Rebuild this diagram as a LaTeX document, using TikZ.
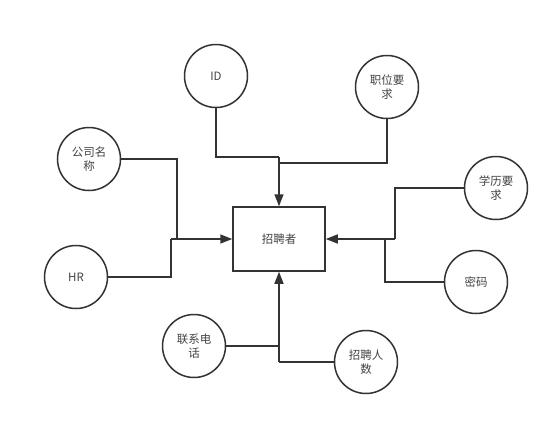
\documentclass[tikz,border=0pt]{standalone}
\usepackage{fontspec}
\setmainfont{Noto Sans CJK SC}
\usetikzlibrary{arrows.meta}
\definecolor{ink}{HTML}{333333}
\definecolor{txt}{HTML}{444444}
\tikzset{
  attr/.style={circle, draw=ink, line width=1.5pt, minimum size=63pt, inner sep=0pt,
    align=center, text=txt, font=\fontsize{11.5}{14}\selectfont},
  entity/.style={rectangle, draw=ink, line width=1.5pt, minimum width=92pt, minimum height=64pt,
    inner sep=0pt, text=txt, font=\fontsize{11.5}{14}\selectfont},
  link/.style={draw=ink, line width=1.5pt},
  arr/.style={link, -{Triangle[length=12pt,width=9pt]}}
}
\begin{document}
\begin{tikzpicture}[x=1pt,y=-1pt]
\useasboundingbox[fill=white] (0,0) rectangle (557,424);
\node[entity] (main) at (279,239) {招聘者};
\node[attr] (id) at (216,76) {ID};
\node[attr] (pos) at (387,87) {职位要\\求};
\node[attr] (comp) at (89,159) {公司名\\称};
\node[attr] (edu) at (496,188) {学历要\\求};
\node[attr] (hr) at (76,277) {HR};
\node[attr] (pwd) at (476,282) {密码};
\node[attr] (tel) at (194,346) {联系电\\话};
\node[attr] (num) at (366,362) {招聘人\\数};
% junctions
\coordinate (jT) at (279,157);
\coordinate (jT2) at (279,163);
\coordinate (jL) at (171,239);
\coordinate (jL2) at (177,239);
\coordinate (jR) at (395,239);
\coordinate (jR2) at (385,239);
\coordinate (jB) at (279,362);
\coordinate (jB2) at (279,346);
% top
\draw[link] (id.south) |- (jT);
\draw[link] (pos.south) |- (jT2);
\draw[arr] (jT) -- (main.north);
% left
\draw[link] (comp.east) -| (jL2);
\draw[link] (hr.east) -| (jL);
\draw[arr] (jL) -- (main.west);
% right
\draw[link] (edu.west) -| (jR);
\draw[link] (pwd.west) -| (jR2);
\draw[arr] (jR) -- (main.east);
% bottom
\draw[link] (tel.east) -- (jB2);
\draw[link] (num.west) -- (jB);
\draw[arr] (jB) -- (main.south);
\end{tikzpicture}
\end{document}
